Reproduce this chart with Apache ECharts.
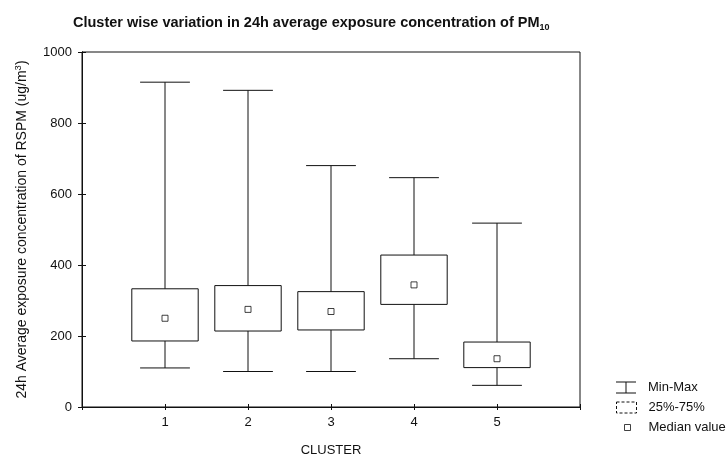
<!DOCTYPE html>
<html>
<head>
<meta charset="utf-8">
<script src="https://cdn.jsdelivr.net/npm/echarts@6/dist/echarts.min.js"></script>
<style>
  html, body { margin: 0; padding: 0; background: #fff; }
  #chart { width: 727px; height: 462px; }
</style>
</head>
<body>
<div id="chart"></div>
<script>
// values (ug/m3)
const clusters = [1, 2, 3, 4, 5];
const minVals = [110, 100, 100, 136, 61];
const q1Vals = [186, 214, 217, 289, 111];
const medianVals = [250, 275, 269, 344, 136];
const q3Vals = [333, 342, 325, 428, 183];
const maxVals = [915, 892, 680, 646, 518];
const yTicks = [0, 200, 400, 600, 800, 1000];

const FONT = 'Liberation Sans';
const INK = '#111';

const whiskerData = clusters.map((c, i) => [c, minVals[i], maxVals[i]]);
const boxData = clusters.map((c, i) => [c, q1Vals[i], q3Vals[i]]);
const medianData = clusters.map((c, i) => [c, medianVals[i]]);

function renderWhisker(params, api) {
    const x = api.value(0);
    const lo = api.coord([x, api.value(1)]);
    const hi = api.coord([x, api.value(2)]);
    const half = api.size([0.3, 0])[0];
    const style = { stroke: INK, lineWidth: 1 };
    return {
        type: 'group',
        children: [
            { type: 'line', shape: { x1: lo[0], y1: lo[1], x2: hi[0], y2: hi[1] }, style },
            { type: 'line', shape: { x1: lo[0] - half, y1: lo[1], x2: lo[0] + half, y2: lo[1] }, style },
            { type: 'line', shape: { x1: hi[0] - half, y1: hi[1], x2: hi[0] + half, y2: hi[1] }, style }
        ]
    };
}

function renderBox(params, api) {
    const x = api.value(0);
    const lo = api.coord([x, api.value(1)]);
    const hi = api.coord([x, api.value(2)]);
    const half = api.size([0.4, 0])[0];
    return {
        type: 'rect',
        shape: { x: lo[0] - half, y: hi[1], width: half * 2, height: lo[1] - hi[1] },
        style: { fill: '#fff', stroke: INK, lineWidth: 1 }
    };
}

const chart = echarts.init(document.getElementById('chart'));

const legendText = { fontFamily: FONT, fontSize: 13, color: INK };

chart.setOption({
    animation: false,
    backgroundColor: '#fff',
    title: {
        text: 'Cluster wise variation in 24h average exposure concentration of PM{sub|10}',
        left: 68,
        top: 9,
        textStyle: {
            fontFamily: FONT,
            fontSize: 14.5,
            fontWeight: 'bold',
            color: INK,
            rich: {
                sub: { fontFamily: FONT, fontSize: 9, fontWeight: 'bold', color: INK, padding: [9, 0, 0, 0] }
            }
        }
    },
    legend: [
        {
            left: 611, top: 376, itemWidth: 20, itemHeight: 12,
            textStyle: Object.assign({ padding: [0, 0, 0, 7] }, legendText),
            data: [{
                name: 'Min-Max',
                icon: 'path://M0,0 L20,0 L20,1 L10.5,1 L10.5,11 L20,11 L20,12 L0,12 L0,11 L9.5,11 L9.5,1 L0,1 Z',
                itemStyle: { color: INK }
            }]
        },
        {
            left: 611, top: 396, itemWidth: 20, itemHeight: 11,
            textStyle: Object.assign({ padding: [0, 0, 0, 7] }, legendText),
            data: [{
                name: '25%-75%',
                icon: 'rect',
                itemStyle: { color: '#fff', borderColor: INK, borderWidth: 1, borderType: [3, 2] }
            }]
        },
        {
            left: 619, top: 416, itemWidth: 6, itemHeight: 6,
            textStyle: Object.assign({ padding: [0, 0, 0, 13] }, legendText),
            data: [{
                name: 'Median value',
                icon: 'rect',
                itemStyle: { color: '#fff', borderColor: INK, borderWidth: 1 }
            }]
        }
    ],
    grid: {
        left: 82, right: 147, top: 52, bottom: 49,
        show: true, borderColor: INK, borderWidth: 1, backgroundColor: '#fff'
    },
    xAxis: [
        {
            type: 'value', min: 0, max: 6, interval: 1,
            name: 'CLUSTER', nameLocation: 'middle', nameGap: 37,
            nameTextStyle: { fontFamily: FONT, fontSize: 13, color: INK },
            axisLine: { show: true, lineStyle: { color: INK } },
            axisTick: { inside: true, length: 3, lineStyle: { color: INK } },
            axisLabel: {
                fontFamily: FONT, fontSize: 13, color: INK, margin: 9,
                formatter: v => (v >= 1 && v <= 5 ? String(v) : '')
            },
            splitLine: { show: false }
        },
        {
            type: 'value', position: 'top', min: 0, max: 6, interval: 1,
            axisLine: { show: true, lineStyle: { color: INK } },
            axisTick: { inside: true, length: 3, lineStyle: { color: INK } },
            axisLabel: { show: false },
            splitLine: { show: false }
        }
    ],
    yAxis: [
        {
            type: 'value', min: yTicks[0], max: yTicks[yTicks.length - 1], interval: 200,
            name: '24h Average exposure concentration of RSPM (ug/m{sup|3})',
            nameLocation: 'middle', nameGap: 50,
            nameTextStyle: {
                fontFamily: FONT, fontSize: 14, color: INK,
                rich: { sup: { fontFamily: FONT, fontSize: 9.5, color: INK, padding: [0, 0, 9, 0] } }
            },
            axisLine: { show: true, lineStyle: { color: INK } },
            axisTick: { inside: true, length: 4, lineStyle: { color: INK } },
            axisLabel: {
                fontFamily: FONT, fontSize: 13, color: INK, margin: 10,
                formatter: v => String(v)
            },
            splitLine: { show: false }
        },
        {
            type: 'value', position: 'right', min: yTicks[0], max: yTicks[yTicks.length - 1], interval: 200,
            axisLine: { show: true, lineStyle: { color: INK } },
            axisTick: { inside: true, length: 4, lineStyle: { color: INK } },
            axisLabel: { show: false },
            splitLine: { show: false }
        }
    ],
    series: [
        {
            name: 'Min-Max', type: 'custom', renderItem: renderWhisker,
            data: whiskerData, encode: { x: 0, y: [1, 2] }, z: 2
        },
        {
            name: '25%-75%', type: 'custom', renderItem: renderBox,
            data: boxData, encode: { x: 0, y: [1, 2] }, z: 3
        },
        {
            name: 'Median value', type: 'scatter', data: medianData,
            symbol: 'rect', symbolSize: 6, z: 4,
            itemStyle: { color: '#fff', borderColor: INK, borderWidth: 1 }
        }
    ]
});
</script>
</body>
</html>
